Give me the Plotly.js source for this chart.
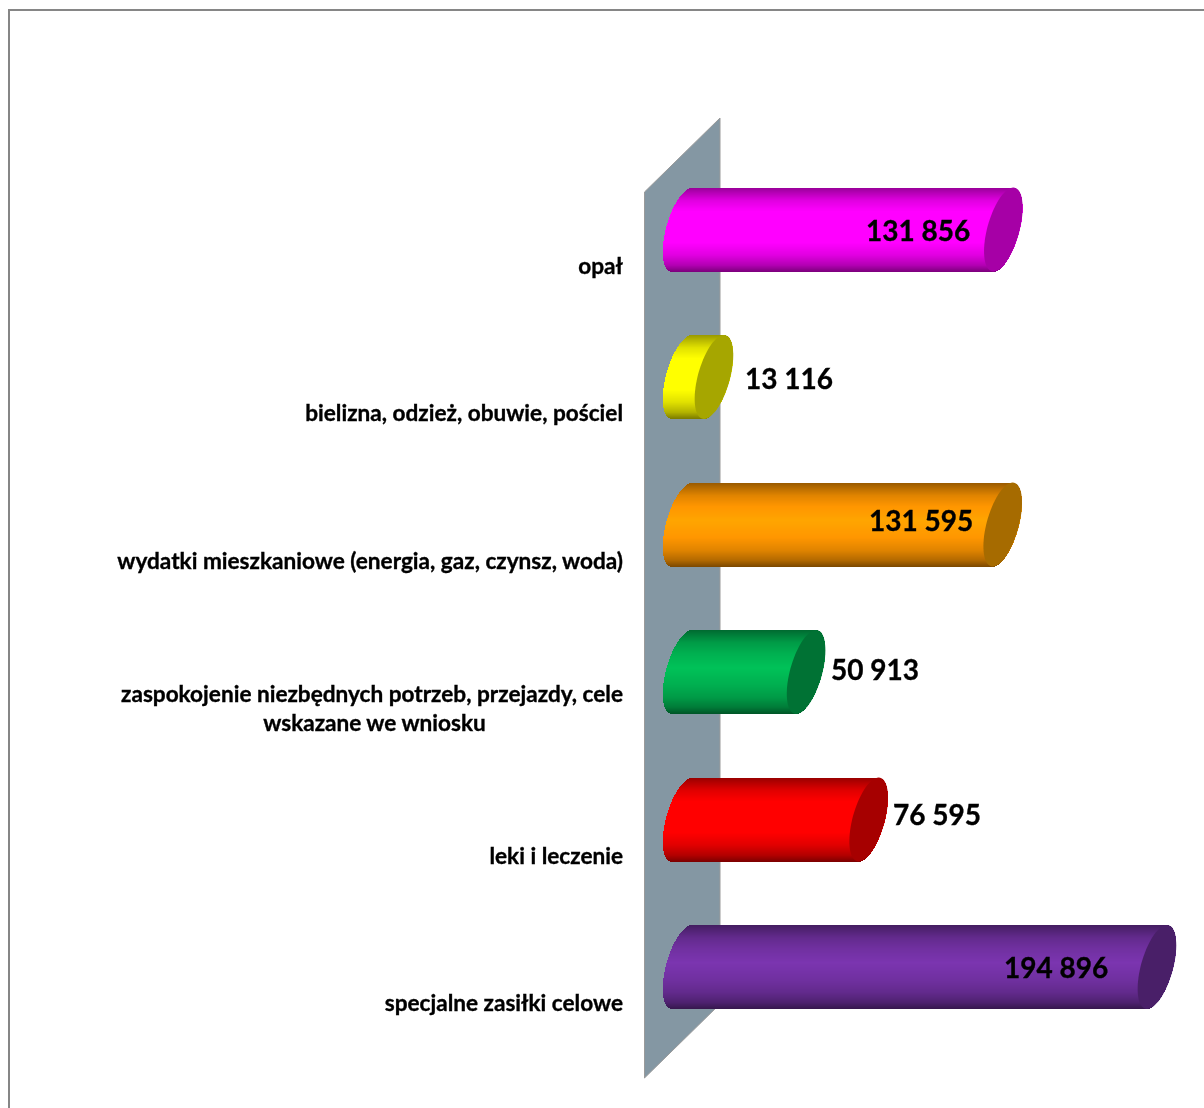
<!DOCTYPE html>
<html>
<head>
<meta charset="utf-8">
<script src="https://cdn.plot.ly/plotly-3.0.1.min.js"></script>
<style>
html,body{margin:0;padding:0;background:#fff;overflow:hidden}
#chart{width:1204px;height:1108px;filter:blur(0.35px)}
#chart .annotation-text,#chart .ytick text{stroke:#000;stroke-width:0.35px}
</style>
</head>
<body>
<div id="chart"></div>
<script>
// ---- data ----
const categories = ["opał","bielizna, odzież, obuwie, pościel","wydatki mieszkaniowe (energia, gaz, czynsz, woda)","zaspokojenie niezbędnych potrzeb, przejazdy, cele","leki i leczenie","specjalne zasiłki celowe"];
const tickLabels = ["opał","bielizna, odzież, obuwie, pościel","wydatki mieszkaniowe (energia, gaz, czynsz, woda)","zaspokojenie niezbędnych potrzeb, przejazdy, cele<br>wskazane we wniosku"+"\u00a0".repeat(25),"leki i leczenie","specjalne zasiłki celowe"];
const values = [131856,13116,131595,50913,76595,194896];
const valueLabels = ["131 856","13 116","131 595","50 913","76 595","194 896"];
const colors = [[255,0,255],[255,255,0],[255,150,0],[0,176,80],[255,0,0],[112,48,160]];
const capColors = [[255,0,255],[255,255,0],[255,165,0],[0,176,80],[255,0,0],[112,48,160]];
// label placement (pixels from the end of the bar)
const labelDx = [-139,29,-136,23,22,-155];
const labelDy = [0,1,-5,-3,-6,0];

// ---- geometry (pixels) ----
const W=1204,H=1108;
const zeroPx=682, pxPerUnit=0.002437;
const firstRowPx=266, rowPx=147.5, barLift=36.5, R=42, capA=16.5, capB=10;
const xa=[-zeroPx/pxPerUnit,(W-zeroPx)/pxPerUnit];
const yr=[(H-firstRowPx)/rowPx,-firstRowPx/rowPx];

function shade(c,m){return 'rgb('+c.map(v=>Math.min(255,Math.round(v*m))).join(',')+')';}
function gradient(f){ // f: 0 top .. 1 bottom of the tube
  const stops=[[0,0.6],[0.06,0.72],[0.15,0.88],[0.28,1.0],[0.45,1.1],[0.65,1.0],[0.8,0.88],[0.92,0.7],[1,0.48]];
  for(let i=1;i<stops.length;i++){ if(f<=stops[i][0]){
    const a=stops[i-1],b=stops[i];
    return a[1]+(b[1]-a[1])*(f-a[0])/(b[0]-a[0]);
  }}
  return 0.5;
}

const traces=categories.map((cat,i)=>{
  const x=[],base=[],offset=[],width=[],col=[],y=[];
  for(let k=0;k<2*R;k++){
    const s=(k+0.5-R)/R, c=Math.sqrt(1-s*s);
    const left=(-capA*c-capB*s)/pxPerUnit;
    const right=values[i]+(capA*c-capB*s)/pxPerUnit;
    y.push(cat);
    base.push(left);
    x.push(right-left);
    offset.push((-barLift-R+k)/rowPx);
    width.push(1/rowPx);
    col.push(shade(colors[i],gradient((k+0.5)/(2*R))));
  }
  return {type:'bar',orientation:'h',name:cat,x,y,base,offset,width,marker:{color:col,line:{width:0}},hoverinfo:'skip',showlegend:false};
});

const ref=(px,py)=>(px/W).toFixed(5)+','+(1-py/H).toFixed(5);
const shapes=[
 {type:'path',xref:'paper',yref:'paper',layer:'below',
  path:'M'+ref(644.5,192)+'L'+ref(720,118)+'L'+ref(720,1004)+'L'+ref(644.5,1078)+'Z',
  fillcolor:'#8497a3',line:{color:'#9a9a9a',width:1}},
 {type:'path',xref:'paper',yref:'paper',layer:'below',
  path:'M'+ref(9,1110)+'L'+ref(9,10)+'L'+ref(1206,10),
  line:{color:'#868686',width:2}}
];
values.forEach((v,i)=>{
  let p='';
  for(let a=0;a<72;a++){
    const t=a/72*2*Math.PI;
    const xv=v+(capA*Math.cos(t)-capB*Math.sin(t))/pxPerUnit;
    const yv=i+(-barLift+R*Math.sin(t))/rowPx;
    p+=(a?'L':'M')+xv.toFixed(1)+','+yv.toFixed(5);
  }
  shapes.push({type:'path',xref:'x',yref:'y',layer:'above',path:p+'Z',fillcolor:shade(capColors[i],0.65),line:{width:0}});
});

const annotations=values.map((v,i)=>({
  x:v,y:categories[i],xref:'x',yref:'y',text:valueLabels[i],showarrow:false,
  xanchor:'left',yanchor:'middle',xshift:labelDx[i],yshift:barLift-labelDy[i],
  font:{family:'Lato',size:28,color:'#000',weight:700}
}));

const layout={
  width:W,height:H,margin:{l:0,r:0,t:0,b:0},paper_bgcolor:'#fff',plot_bgcolor:'rgba(0,0,0,0)',
  barmode:'overlay',bargap:0,showlegend:false,
  xaxis:{range:xa,visible:false,fixedrange:true},
  yaxis:{type:'category',categoryorder:'array',categoryarray:categories,range:yr,fixedrange:true,
    anchor:'free',position:623/W,showgrid:false,zeroline:false,showline:false,ticks:'',
    tickmode:'array',tickvals:categories,ticktext:tickLabels,
    tickfont:{family:'Lato',size:22.6,color:'#000',weight:700}},
  shapes,annotations
};
Plotly.newPlot('chart',traces,layout,{displayModeBar:false,staticPlot:true});
</script>
</body>
</html>
